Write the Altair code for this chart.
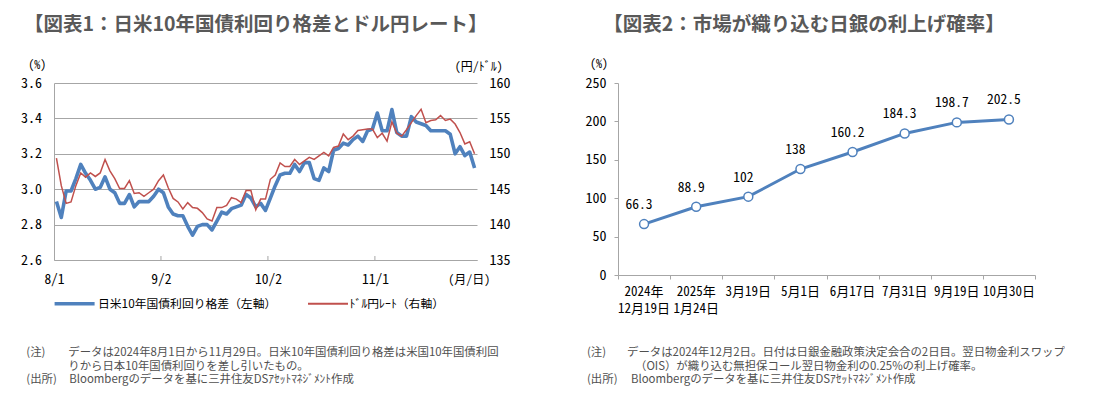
import altair as alt
import pandas as pd

# ---------------- Chart 1 data (business days 8/1 .. 11/29) ----------------
spread = [2.93, 2.84, 2.99, 2.99, 3.06, 3.14, 3.09, 3.05, 3.00, 3.01,
          3.07, 3.00, 2.98, 2.92, 2.92, 2.97, 2.90, 2.93, 2.93, 2.93,
          2.96, 3.00, 2.98, 2.90, 2.86, 2.85, 2.85, 2.79, 2.74, 2.79,
          2.80, 2.80, 2.77, 2.82, 2.87, 2.86, 2.89, 2.90, 2.91, 2.97,
          2.95, 2.90, 2.92, 2.88, 2.95, 3.02, 3.08, 3.09, 3.09, 3.14,
          3.10, 3.15, 3.15, 3.06, 3.05, 3.12, 3.10, 3.22, 3.23, 3.26,
          3.25, 3.28, 3.30, 3.27, 3.33, 3.34, 3.43, 3.33, 3.33, 3.45,
          3.32, 3.30, 3.30, 3.41, 3.38, 3.37, 3.36, 3.33, 3.33, 3.33,
          3.33, 3.31, 3.20, 3.24, 3.19, 3.21, 3.12]
usdjpy = [149.4, 145.5, 143.0, 143.2, 145.5, 147.3, 146.7, 147.3, 146.8, 147.3,
          149.2, 147.6, 146.5, 145.1, 145.1, 146.2, 144.4, 144.5, 144.0, 144.5,
          145.0, 146.2, 147.0, 145.2, 143.7, 143.2, 142.2, 143.1, 142.4, 142.3,
          141.7, 140.8, 140.5, 142.4, 142.4, 142.7, 143.8, 143.6, 143.1, 144.8,
          144.8, 142.1, 143.6, 143.6, 146.4, 147.0, 148.7, 148.2, 148.2, 149.2,
          148.5, 149.0, 149.5, 149.2, 149.7, 150.2, 149.7, 150.9, 151.1, 152.8,
          152.0, 152.5, 153.3, 153.4, 153.5, 153.5, 152.3, 152.9, 151.8, 154.5,
          152.9, 152.5, 153.4, 154.4, 155.4, 156.3, 154.4, 154.7, 154.8, 155.4,
          154.7, 154.9, 154.2, 153.0, 151.4, 151.7, 150.0]
x_tick_pos = [-0.5, 21.5, 43.5, 65.5]
x_tick_labels = ["8/1", "9/2", "10/2", "11/1"]
left_ticks = [2.6, 2.8, 3.0, 3.2, 3.4, 3.6]
right_ticks = [135, 140, 145, 150, 155, 160]

# ---------------- Chart 2 data ----------------
meetings = ["2024年\n12月19日", "2025年\n1月24日", "3月19日", "5月1日",
            "6月17日", "7月31日", "9月19日", "10月30日"]
probs = [66.3, 88.9, 102, 138, 160.2, 184.3, 198.7, 202.5]
prob_ticks = [0, 50, 100, 150, 200, 250]

# ---------------- styles ----------------
BLUE = "#4F81BD"
RED = "#C0504D"
GRID = "#A6A6A6"
TITLE_C = "#595959"
NOTE_C = "#505050"
FONT_JP = "Noto Sans CJK JP"
FONT_NUM = "Noto Sans Mono CJK JP, Noto Sans CJK JP, DejaVu Sans Mono, monospace"
NOTE_SIZE = 11.4

W1, H1 = 423, 177
OX1, OY1 = 52.7, 82.3
W2, H2 = 417, 192
OX2, OY2 = 614, 82.3


def one():
    return pd.DataFrame({"a": [0]})


def txt(s, x, y, size=12, align="left", weight="normal", color="black", font=FONT_JP):
    return alt.Chart(pd.DataFrame({"t": [s]})).mark_text(
        align=align, baseline="middle", fontSize=size, fontWeight=weight,
        color=color, font=font
    ).encode(x=alt.value(x), y=alt.value(y), text="t:N")


def hline(x0, x1, y, color, w):
    return alt.Chart(one()).mark_rule(color=color, strokeWidth=w).encode(
        x=alt.value(x0), x2=alt.value(x1), y=alt.value(y))


def anchor(x, y):
    return alt.Chart(one()).mark_rule(color="white", strokeWidth=1).encode(
        x=alt.value(x), x2=alt.value(x + 1), y=alt.value(y), y2=alt.value(y + 1))


# ---------------- Chart 1 ----------------
df1 = pd.DataFrame({"i": list(range(len(spread))), "spread": spread, "usdjpy": usdjpy})

expr = "''"
for p, l in reversed(list(zip(x_tick_pos, x_tick_labels))):
    expr = f"abs(datum.value - ({p})) < 0.01 ? '{l}' : " + expr

x1 = alt.X("i:Q", scale=alt.Scale(domain=[-0.5, 86.5], nice=False, zero=False),
           axis=alt.Axis(values=x_tick_pos, labelExpr=expr, ticks=False, tickSize=0,
                         grid=False, domainColor=GRID, labelPadding=12.5, labelFontSize=13.5,
                         labelFont=FONT_NUM, labelColor="black", labelFlush=False,
                         labelOverlap=False, title=None))

blue = alt.Chart(df1).mark_line(color=BLUE, strokeWidth=3.6, strokeJoin="round").encode(
    x=x1,
    y=alt.Y("spread:Q", scale=alt.Scale(domain=[2.6, 3.6], nice=False, zero=False),
            axis=alt.Axis(values=left_ticks, format=".1f", grid=True, gridColor=GRID,
                          ticks=False, tickSize=0, domainColor=GRID, labelPadding=12.5,
                          labelFontSize=14, labelFont=FONT_NUM, labelColor="black",
                          labelFlush=False, labelOverlap=False, title=None)))

red = alt.Chart(df1).mark_line(color=RED, strokeWidth=1.5).encode(
    x=x1,
    y=alt.Y("usdjpy:Q", scale=alt.Scale(domain=[135, 160], nice=False, zero=False),
            axis=alt.Axis(orient="right", values=right_ticks, grid=False, ticks=False,
                          tickSize=0, domain=False, labelPadding=12, labelFontSize=14,
                          labelFont=FONT_NUM, labelColor="black", labelFlush=False,
                          labelOverlap=False, title=None)))

xticks1 = alt.Chart(pd.DataFrame({"i": x_tick_pos[1:]})).mark_rule(color=GRID).encode(
    x=x1, y=alt.value(H1), y2=alt.value(H1 - 4))

c1_layers = [
    blue, red, xticks1,
    anchor(8 - OX1, 8 - OY1),
    anchor(550 - OX1, 8 - OY1),
    txt("【図表1：日米10年国債利回り格差とドル円レート】", 254.5 - OX1, 24.5 - OY1,
        size=19.5, align="center", weight="bold", color=TITLE_C),
    txt("(%)", 36 - OX1, 64.5 - OY1, size=12, align="center", font=FONT_NUM),
    txt("(円/ﾄﾞﾙ)", 477.5 - OX1, 66.5 - OY1, size=12, align="center", font=FONT_NUM),
    txt("(月/日)", 468 - OX1, 279.5 - OY1, size=12, align="center", font=FONT_NUM),
    hline(53.3 - OX1, 93.3 - OX1, 303 - OY1, BLUE, 3.5),
    txt("日米10年国債利回り格差（左軸）", 96.7 - OX1, 303.5 - OY1, size=11.8),
    hline(306.7 - OX1, 346.7 - OX1, 303 - OY1, RED, 2),
    txt("ﾄﾞﾙ円ﾚｰﾄ（右軸）", 348.3 - OX1, 303.5 - OY1, size=11.8),
    txt("(注)", 25 - OX1, 352.5 - OY1, size=NOTE_SIZE, color=NOTE_C),
    txt("データは2024年8月1日から11月29日。日米10年国債利回り格差は米国10年国債利回",
        67 - OX1, 352.5 - OY1, size=NOTE_SIZE, color=NOTE_C),
    txt("りから日本10年国債利回りを差し引いたもの。", 67 - OX1, 366 - OY1,
        size=NOTE_SIZE, color=NOTE_C),
    txt("(出所)", 25 - OX1, 379.5 - OY1, size=NOTE_SIZE, color=NOTE_C),
    txt("Bloombergのデータを基に三井住友DSｱｾｯﾄﾏﾈｼﾞﾒﾝﾄ作成", 68 - OX1, 379.5 - OY1,
        size=NOTE_SIZE, color=NOTE_C),
]
chart1 = alt.layer(*c1_layers).resolve_scale(y="independent").properties(width=W1, height=H1)

# ---------------- Chart 2 ----------------
df2 = pd.DataFrame({"cat": meetings, "prob": probs, "idx": list(range(len(probs)))})
base2 = alt.Chart(df2).transform_calculate(pos="datum.idx + 0.5")

x2 = alt.X("pos:Q", scale=alt.Scale(domain=[0, len(probs)], nice=False, zero=False),
           axis=alt.Axis(values=list(range(len(probs) + 1)), labels=False, ticks=True,
                         tickSize=4, tickColor=GRID, domainColor=GRID, grid=False, title=None))
y2 = alt.Y("prob:Q", scale=alt.Scale(domain=[0, 250], nice=False, zero=True),
           axis=alt.Axis(values=prob_ticks, tickSize=4, tickColor=GRID, domainColor=GRID,
                         grid=False, labelPadding=8, labelFontSize=14, labelFont=FONT_NUM,
                         labelColor="black", labelFlush=False, labelOverlap=False, title=None))

line2 = base2.mark_line(color=BLUE, strokeWidth=3).encode(x=x2, y=y2)
pts2 = base2.mark_point(filled=True, fill="white", stroke=BLUE, strokeWidth=1.5,
                        size=80, opacity=1).encode(x=x2, y=y2)
lab2 = base2.mark_text(dx=-5, dy=-19, fontSize=13.5, font=FONT_NUM, color="black").encode(
    x=x2, y=y2, text="prob:N")
cats2 = base2.mark_text(lineBreak="\n", baseline="top", fontSize=13, font=FONT_NUM,
                        lineHeight=17, color="black").encode(
    x=x2, y=alt.value(H2 + 11), text="cat:N")

c2_layers = [
    line2, pts2, lab2, cats2,
    anchor(560 - OX2, 8 - OY2),
    txt("【図表2：市場が織り込む日銀の利上げ確率】", 800 - OX2, 24.5 - OY2,
        size=19.5, align="center", weight="bold", color=TITLE_C),
    txt("(%)", 595 - OX2, 63.5 - OY2, size=12, align="center", font=FONT_NUM),
    txt("(注)", 583 - OX2, 352.5 - OY2, size=NOTE_SIZE, color=NOTE_C),
    txt("データは2024年12月2日。日付は日銀金融政策決定会合の2日目。翌日物金利スワップ",
        623 - OX2, 352.5 - OY2, size=NOTE_SIZE, color=NOTE_C),
    txt("（OIS）が織り込む無担保コール翌日物金利の0.25%の利上げ確率。",
        631 - OX2, 366 - OY2, size=NOTE_SIZE, color=NOTE_C),
    txt("(出所)", 583 - OX2, 379.5 - OY2, size=NOTE_SIZE, color=NOTE_C),
    txt("Bloombergのデータを基に三井住友DSｱｾｯﾄﾏﾈｼﾞﾒﾝﾄ作成", 627 - OX2, 379.5 - OY2,
        size=NOTE_SIZE, color=NOTE_C),
]
chart2 = alt.layer(*c2_layers).properties(width=W2, height=H2)

chart = alt.hconcat(chart1, chart2, spacing=10).properties(
    padding=0, background="white"
).configure_view(stroke=None)

chart.save("out.html", embed_options={"renderer": "svg", "actions": False})
